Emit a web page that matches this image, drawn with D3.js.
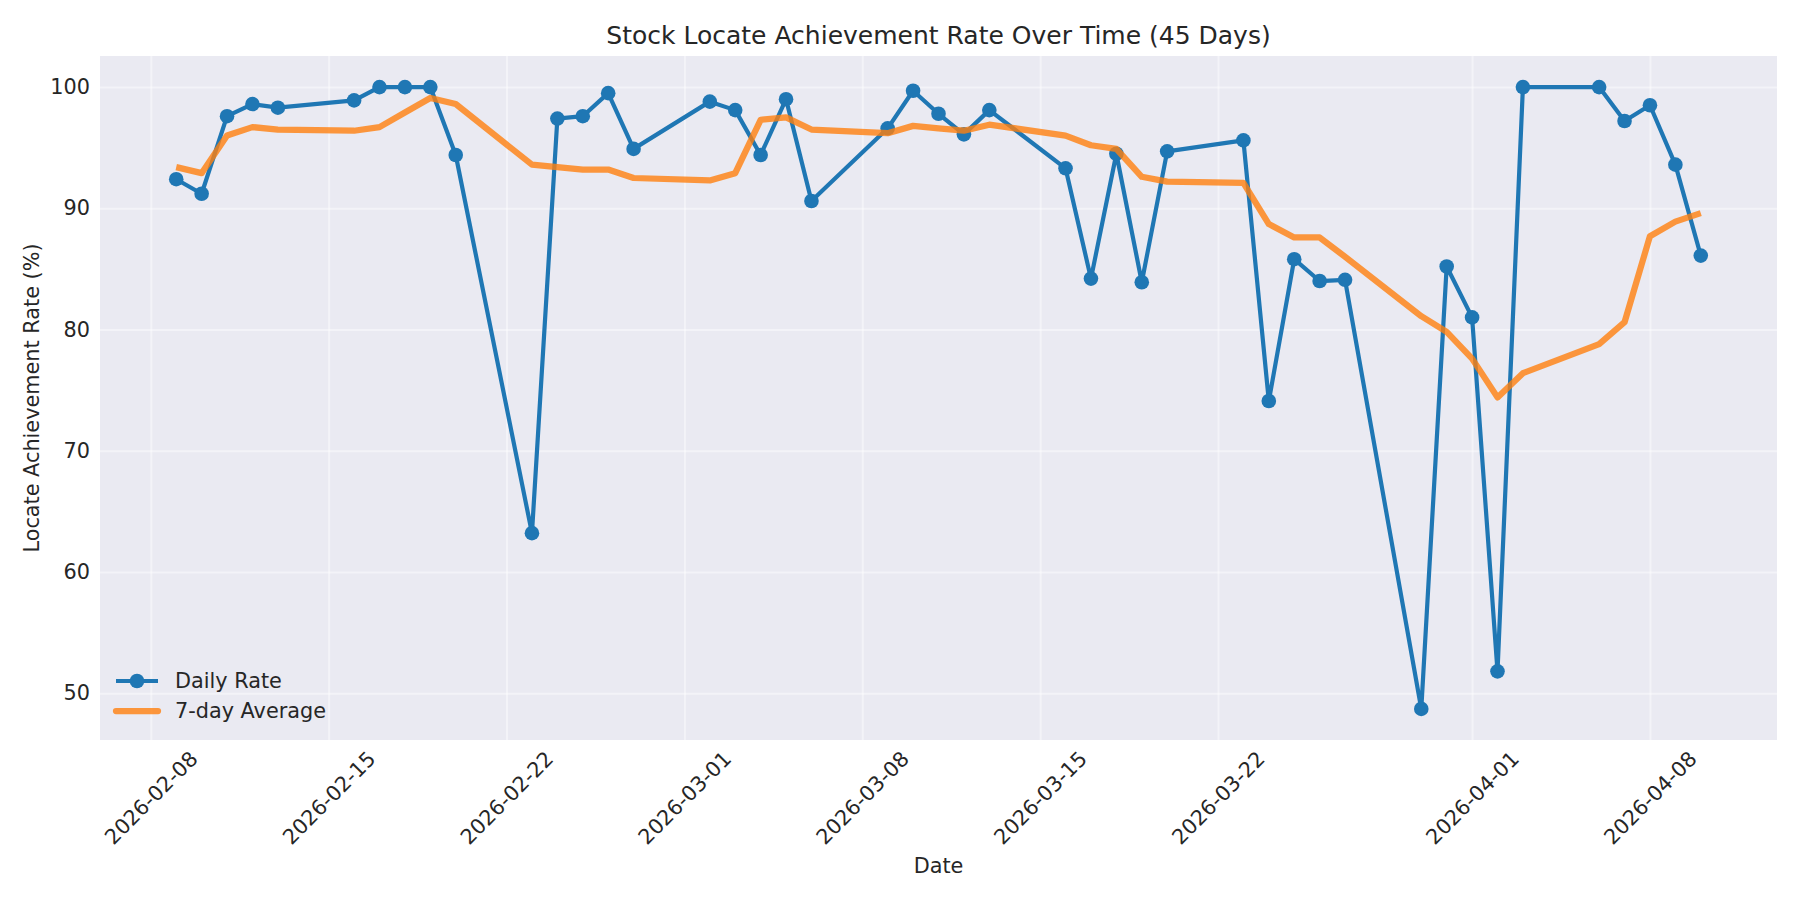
<!DOCTYPE html>
<html>
<head>
<meta charset="utf-8">
<script src="https://cdn.jsdelivr.net/npm/d3@7"></script>
<style>
	body { margin: 0; background: #fff; }
	svg text { font-family: "DejaVu Sans", sans-serif; fill: #262626; }
</style>
</head>
<body>
<script>
// trading days shown on the chart
var days = [
	'2026-02-09', '2026-02-10', '2026-02-11', '2026-02-12', '2026-02-13',
	'2026-02-16', '2026-02-17', '2026-02-18', '2026-02-19', '2026-02-20',
	'2026-02-23', '2026-02-24', '2026-02-25', '2026-02-26', '2026-02-27',
	'2026-03-02', '2026-03-03', '2026-03-04', '2026-03-05', '2026-03-06',
	'2026-03-09', '2026-03-10', '2026-03-11', '2026-03-12', '2026-03-13',
	'2026-03-16', '2026-03-17', '2026-03-18', '2026-03-19', '2026-03-20',
	'2026-03-23', '2026-03-24', '2026-03-25', '2026-03-26', '2026-03-27',
	'2026-03-30', '2026-03-31', '2026-04-01', '2026-04-02', '2026-04-03',
	'2026-04-06', '2026-04-07', '2026-04-08', '2026-04-09', '2026-04-10'
];

var dailyRate = [
	92.4, 91.2, 97.6, 98.6, 98.3,
	98.9, 100, 100, 100, 94.4,
	63.2, 97.4, 97.6, 99.5, 94.9,
	98.8, 98.1, 94.4, 99.0, 90.6,
	96.6, 99.7, 97.8, 96.1, 98.1,
	93.3, 84.2, 94.5, 83.9, 94.7,
	95.6, 74.1, 85.8, 84.0, 84.1,
	48.7, 85.2, 81.0, 51.8, 100,
	100, 97.2, 98.5, 93.6, 86.1
];

var weekAvg = [
	93.4, 92.9, 96.0, 96.7, 96.5,
	96.4, 96.7, 97.9, 99.1, 98.6,
	93.6, 93.4, 93.2, 93.2, 92.5,
	92.3, 92.9, 97.3, 97.5, 96.5,
	96.2, 96.8, 96.6, 96.4, 96.9,
	96.0, 95.2, 94.9, 92.6, 92.2,
	92.1, 88.7, 87.6, 87.6, 86.0,
	81.1, 79.8, 77.6, 74.4, 76.4,
	78.8, 80.6, 87.7, 88.9, 89.6
];

var xTicks = ['2026-02-08', '2026-02-15', '2026-02-22', '2026-03-01', '2026-03-08',
	'2026-03-15', '2026-03-22', '2026-04-01', '2026-04-08'];
var yTicks = [50, 60, 70, 80, 90, 100];

var seriesNames = ['Daily Rate', '7-day Average'];

var W = 1800, H = 900;
var margin = {left: 100, right: 23, top: 56, bottom: 160};
var w = W - margin.left - margin.right,
	h = H - margin.top - margin.bottom;

var parse = d3.utcParse('%Y-%m-%d');
var rows = days.map(function(d, i){
	return {date: parse(d), daily: dailyRate[i], avg: weekAvg[i]};
});

// matplotlib style 5% padding on both axes
function padded(ext){
	var p = (ext[1] - ext[0]) * 0.05;
	return [ext[0] - p, ext[1] + p];
}
var xExt = d3.extent(rows, function(d){ return +d.date; });
var yExt = d3.extent(dailyRate.concat(weekAvg));

var x = d3.scaleUtc()
	.domain(padded(xExt).map(function(t){ return new Date(t); }))
	.range([0, w]);
var y = d3.scaleLinear()
	.domain(padded(yExt))
	.range([h, 0]);

var svg = d3.select('body')
	.append('svg')
	.attr('width', W)
	.attr('height', H);

var g = svg.append('g')
	.attr('transform', 'translate(' + margin.left + ',' + margin.top + ')');

g.append('rect')
	.attr('width', w)
	.attr('height', h)
	.attr('fill', '#eaeaf2');

// grid
var tickDates = xTicks.map(parse);
g.append('g')
	.attr('class', 'grid')
	.call(d3.axisLeft(y).tickValues(yTicks).tickSize(-w).tickFormat(''));
g.append('g')
	.attr('class', 'grid')
	.attr('transform', 'translate(0,' + h + ')')
	.call(d3.axisBottom(x).tickValues(tickDates).tickSize(-h).tickFormat(''));
g.selectAll('.grid .domain').remove();
g.selectAll('.grid line')
	.attr('stroke', '#fff')
	.attr('stroke-opacity', 0.45)
	.attr('stroke-width', 2);

// axes
var yAxis = g.append('g')
	.call(d3.axisLeft(y).tickValues(yTicks).tickSize(0).tickPadding(10));
yAxis.select('.domain').remove();
yAxis.selectAll('text')
	.style('font-size', '20.8px')
	.attr('fill', '#262626');

var xAxis = g.append('g')
	.attr('transform', 'translate(0,' + h + ')')
	.call(d3.axisBottom(x).tickValues(tickDates).tickSize(0)
		.tickFormat(d3.utcFormat('%Y-%m-%d')));
xAxis.select('.domain').remove();
xAxis.selectAll('text')
	.attr('y', 0)
	.attr('dy', null)
	.attr('text-anchor', 'middle')
	.attr('dominant-baseline', 'central')
	.attr('transform', 'translate(0,58) rotate(-45)')
	.attr('fill', '#262626')
	.style('font-size', '20.8px');

// lines
var dailyLine = d3.line()
	.x(function(d){ return x(d.date); })
	.y(function(d){ return y(d.daily); });
var avgLine = d3.line()
	.x(function(d){ return x(d.date); })
	.y(function(d){ return y(d.avg); });

g.append('path')
	.datum(rows)
	.attr('d', dailyLine)
	.attr('fill', 'none')
	.attr('stroke', '#1f77b4')
	.attr('stroke-width', 4.2)
	.attr('stroke-linejoin', 'round');

g.selectAll('circle.pt')
	.data(rows).enter()
	.append('circle')
	.attr('class', 'pt')
	.attr('cx', function(d){ return x(d.date); })
	.attr('cy', function(d){ return y(d.daily); })
	.attr('r', 7.3)
	.attr('fill', '#1f77b4');

g.append('path')
	.datum(rows)
	.attr('d', avgLine)
	.attr('fill', 'none')
	.attr('stroke', '#ff7f0e')
	.attr('stroke-opacity', 0.8)
	.attr('stroke-width', 6.25)
	.attr('stroke-linejoin', 'round');

// labels
svg.append('text')
	.attr('x', margin.left + w / 2)
	.attr('y', margin.top - 12.5)
	.attr('text-anchor', 'middle')
	.style('font-size', '25px')
	.text('Stock Locate Achievement Rate Over Time (45 Days)');

svg.append('text')
	.attr('x', margin.left + w / 2)
	.attr('y', 873)
	.attr('text-anchor', 'middle')
	.style('font-size', '20.8px')
	.text('Date');

svg.append('text')
	.attr('transform', 'translate(32,' + (margin.top + h / 2) + ') rotate(-90)')
	.attr('text-anchor', 'middle')
	.attr('dominant-baseline', 'central')
	.style('font-size', '20.8px')
	.text('Locate Achievement Rate (%)');

// legend, lower left
var legend = g.append('g')
	.attr('transform', 'translate(16,' + (h - 59) + ')');
var items = legend.selectAll('g')
	.data(seriesNames).enter()
	.append('g')
	.attr('transform', function(d, i){ return 'translate(0,' + (i * 30) + ')'; });
items.append('line')
	.attr('x1', 0).attr('x2', 42)
	.attr('stroke', function(d, i){ return i === 0 ? '#1f77b4' : '#ff7f0e'; })
	.attr('stroke-opacity', function(d, i){ return i === 0 ? 1 : 0.8; })
	.attr('stroke-width', function(d, i){ return i === 0 ? 4.2 : 6.25; })
	.attr('stroke-linecap', function(d, i){ return i === 0 ? 'butt' : 'round'; });
items.filter(function(d, i){ return i === 0; })
	.append('circle')
	.attr('cx', 21)
	.attr('r', 7.3)
	.attr('fill', '#1f77b4');
items.append('text')
	.attr('x', 59)
	.attr('dominant-baseline', 'central')
	.style('font-size', '20.8px')
	.text(function(d){ return d; });
</script>
</body>
</html>
